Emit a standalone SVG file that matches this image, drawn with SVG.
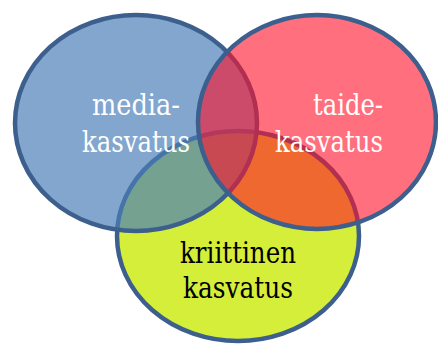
<svg xmlns="http://www.w3.org/2000/svg" width="438" height="344" viewBox="0 0 438 344">
<style>
.e{stroke:#3C5F8E;stroke-width:4.5}
.t{font-size:29px}
.w{fill:#ffffff}
.k{fill:#000000}
</style>
<rect width="438" height="344" fill="#ffffff"/>
<g id="kriittinen">
<ellipse class="e" cx="238" cy="236" rx="121" ry="105" fill="#D5EE3A"/>
</g>
<g id="media">
<ellipse class="e" cx="136" cy="123" rx="121" ry="108" fill="#4A7EB8" fill-opacity="0.69"/>
</g>
<g id="taide">
<ellipse class="e" cx="317" cy="122" rx="119" ry="107" fill="#FF0F28" fill-opacity="0.6"/>
</g>
<g id="labels" font-family="'DejaVu Serif', serif">
<text class="t w" x="136" y="115" text-anchor="middle" textLength="88" lengthAdjust="spacingAndGlyphs">media-</text>
<text class="t w" x="136" y="152" text-anchor="middle" textLength="108" lengthAdjust="spacingAndGlyphs">kasvatus</text>
<text class="t w" x="383" y="115" text-anchor="end" textLength="70" lengthAdjust="spacingAndGlyphs">taide-</text>
<text class="t w" x="383" y="152" text-anchor="end" textLength="108" lengthAdjust="spacingAndGlyphs">kasvatus</text>
<text class="t k" x="238" y="263" text-anchor="middle" textLength="116" lengthAdjust="spacingAndGlyphs">kriittinen</text>
<text class="t k" x="238" y="298" text-anchor="middle" textLength="110" lengthAdjust="spacingAndGlyphs">kasvatus</text>
</g>
</svg>
